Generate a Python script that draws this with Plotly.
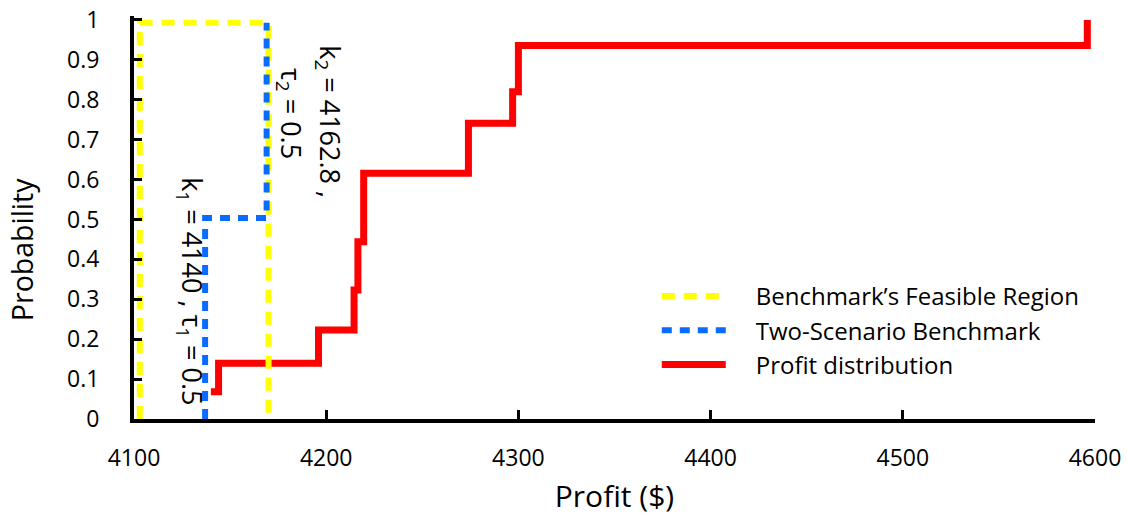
import plotly.graph_objects as go

# Profit distribution (empirical CDF, step)
profit_x = [4140, 4144, 4196, 4214.5, 4216.5, 4219.5, 4274, 4297, 4300, 4596]
profit_p = [0.068, 0.140, 0.223, 0.323, 0.444, 0.616, 0.741, 0.820, 0.936, 1.0]

# Benchmark's feasible region (dashed rectangle)
region_x = [4103, 4103, 4170, 4170]
region_p = [0.0, 0.993, 0.993, 0.0]

# Two-scenario benchmark
bench_x = [4137, 4137, 4169, 4169]
bench_p = [0.0, 0.504, 0.504, 0.993]

x_ticks = [4100, 4200, 4300, 4400, 4500, 4600]
y_ticks = [0, 0.1, 0.2, 0.3, 0.4, 0.5, 0.6, 0.7, 0.8, 0.9, 1]
y_tick_text = ["0", "0.1", "0.2", "0.3", "0.4", "0.5", "0.6", "0.7", "0.8", "0.9", "1"]

annotations_text = [
    ("k<sub>2</sub> = 4162.8 ,", 4201.5, 0.746),
    ("τ<sub>2</sub> = 0.5", 4181, 0.765),
    ("k<sub>1</sub> = 4140 , τ<sub>1</sub> = 0.5", 4129, 0.321),
]

font_main = "Open Sans, Noto Sans, sans-serif"
pad = "\u00a0\u00a0\u00a0\u00a0"

fig = go.Figure()
fig.add_trace(go.Scatter(
    x=profit_x, y=profit_p, mode="lines", line=dict(color="#ff0000", width=7, shape="hv"),
    name=pad + "Profit distribution", legendrank=3))
fig.add_trace(go.Scatter(
    x=region_x, y=region_p, mode="lines", line=dict(color="#ffff00", width=6, dash="13px,9px"),
    name=pad + "Benchmark’s Feasible Region", legendrank=1))
fig.add_trace(go.Scatter(
    x=bench_x, y=bench_p, mode="lines", line=dict(color="#0a6cff", width=6, dash="10px,8px"),
    name=pad + "Two-Scenario Benchmark", legendrank=2))

for txt, ax, ay in annotations_text:
    fig.add_annotation(x=ax, y=ay, text=txt, showarrow=False, textangle=90,
                       font=dict(family=font_main, size=27, color="black"))

fig.add_annotation(xref="paper", yref="paper", x=-0.139, y=0.42, text="Probability",
                   showarrow=False, textangle=-90,
                   font=dict(family=font_main, size=28.5, color="black"))

fig.update_layout(
    width=1127, height=516,
    margin=dict(l=134, r=32, t=16, b=97),
    paper_bgcolor="white", plot_bgcolor="white",
    showlegend=True,
    legend=dict(x=0.544, y=0.36, xanchor="left", yanchor="top",
                font=dict(family=font_main, size=24, color="black"),
                itemwidth=64, bgcolor="rgba(0,0,0,0)", tracegroupgap=0),
    xaxis=dict(range=[4100, 4600], tickvals=x_ticks, ticktext=[str(v) for v in x_ticks],
               showline=True, linecolor="black", linewidth=4, automargin=False,
               ticks="inside", ticklen=9, tickwidth=3, tickcolor="black",
               showgrid=False, zeroline=False, ticklabelstandoff=15,
               ticklabeloverflow="allow",
               tickfont=dict(family=font_main, size=23, color="black"),
               title=dict(text="Profit ($)", font=dict(family=font_main, size=30, color="black"), standoff=15)),
    yaxis=dict(range=[0, 1.01], tickvals=y_ticks, ticktext=y_tick_text,
               showline=True, linecolor="black", linewidth=4, automargin=False,
               ticks="inside", ticklen=8, tickwidth=3, tickcolor="black",
               showgrid=False, zeroline=False, ticklabelstandoff=26,
               ticklabeloverflow="allow",
               tickfont=dict(family=font_main, size=23, color="black")),
)

fig.write_html("out.html", config={"displayModeBar": False},
               post_script="document.body.style.margin='0';document.body.style.overflow='hidden';")
